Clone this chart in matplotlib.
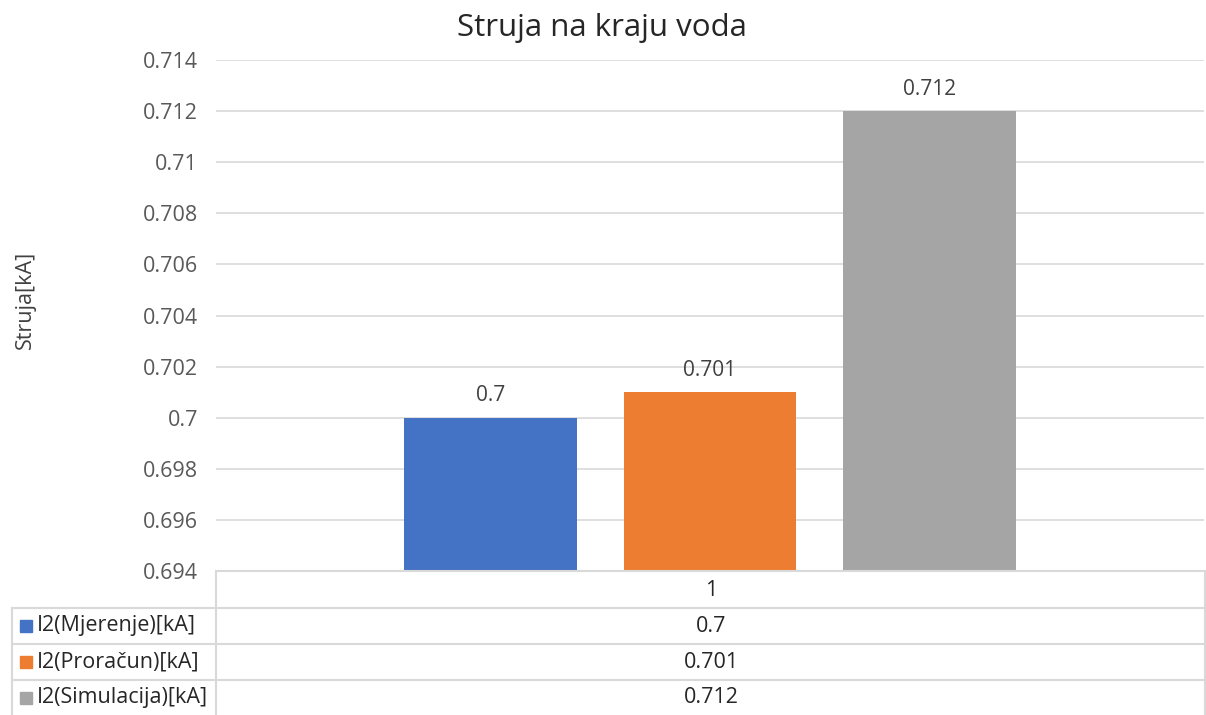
import numpy as np
import matplotlib.pyplot as plt

plt.rcParams['font.family'] = ['Open Sans', 'DejaVu Sans']

# data
categories = ['1']
series_names = ['I2(Mjerenje)[kA]', 'I2(Proračun)[kA]', 'I2(Simulacija)[kA]']
series_values = [0.7, 0.701, 0.712]
colors = ['#4472C4', '#ED7D31', '#A5A5A5']
y_ticks = [0.694, 0.696, 0.698, 0.7, 0.702, 0.704, 0.706, 0.708, 0.71, 0.712, 0.714]

W, H = 1206, 715
fig = plt.figure(figsize=(W / 100, H / 100), dpi=100)

def fx(px):
    return px / W

def fy(py):
    return 1 - py / H

ax = fig.add_axes([fx(216), fy(571), fx(1204) - fx(216), fy(60) - fy(571)])

bar_w = 0.175
gap = 0.047
offsets = (np.arange(len(series_values)) - 1) * (bar_w + gap)
for i, (name, val) in enumerate(zip(series_names, series_values)):
    ax.bar(0 + offsets[i], val - y_ticks[0], bottom=y_ticks[0], width=bar_w,
           color=colors[i], zorder=3)
    ax.text(0 + offsets[i], val + 0.00045, "{:g}".format(val), ha='center', va='bottom',
            fontsize=15, color='#404040')

ax.set_xlim(-0.5, 0.5)
ax.set_ylim(y_ticks[0], y_ticks[-1])
ax.set_yticks(y_ticks)
ax.set_yticklabels(["{:g}".format(t) for t in y_ticks], fontsize=15.5, color='#595959')
ax.tick_params(axis='y', length=0, pad=13)
ax.set_xticks([])
ax.grid(axis='y', color='#D9D9D9', linewidth=1.2, zorder=0)
for s in ax.spines.values():
    s.set_visible(False)

fig.text(fx(602), fy(28), 'Struja na kraju voda', ha='center', va='center',
         fontsize=22.5, color='#262626')
fig.text(fx(25), fy(300), 'Struja[kA]', rotation=90, ha='center', va='center',
         fontsize=15.5, color='#404040')

# data table below the axes
line_kw = dict(color='#D9D9D9', linewidth=1.5, transform=fig.transFigure)
rows_y = [571, 608, 644, 680, 715]
fig.add_artist(plt.Line2D([fx(216), fx(1205)], [fy(571), fy(571)], **line_kw))
for yy in rows_y[1:4]:
    fig.add_artist(plt.Line2D([fx(12), fx(1205)], [fy(yy), fy(yy)], **line_kw))
fig.add_artist(plt.Line2D([fx(216), fx(216)], [fy(571), fy(715)], **line_kw))
fig.add_artist(plt.Line2D([fx(1205), fx(1205)], [fy(571), fy(715)], **line_kw))
fig.add_artist(plt.Line2D([fx(12), fx(12)], [fy(608), fy(715)], **line_kw))

fig.text(fx(711), fy(590), categories[0], ha='center', va='center', fontsize=15.5, color='#262626')
for i, name in enumerate(series_names):
    yc = (rows_y[i + 1] + rows_y[i + 2]) / 2
    fig.patches.append(plt.Rectangle((fx(20), fy(yc + 6)), fx(12), fy(yc - 6) - fy(yc + 6),
                                     color=colors[i], transform=fig.transFigure))
    fig.text(fx(37), fy(yc), name, ha='left', va='center', fontsize=15.5, color='#262626')
    fig.text(fx(711), fy(yc), "{:g}".format(series_values[i]), ha='center', va='center',
             fontsize=15.5, color='#262626')

plt.savefig('out.png', dpi=100)
